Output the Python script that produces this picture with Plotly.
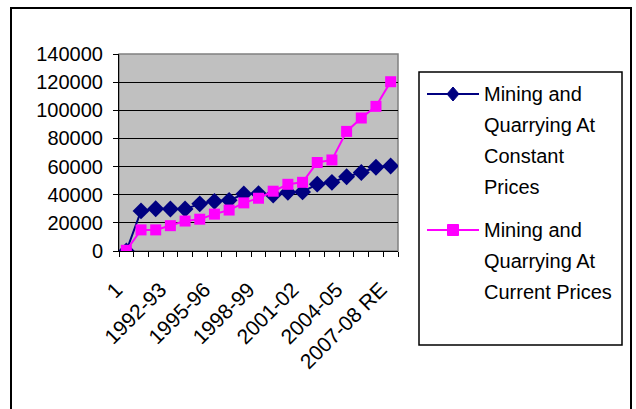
import plotly.graph_objects as go

# Mining and quarrying output, year by year
years = ["1", "1990-91", "1991-92", "1992-93", "1993-94", "1994-95", "1995-96",
         "1996-97", "1997-98", "1998-99", "1999-00", "2000-01", "2001-02",
         "2002-03", "2003-04", "2004-05", "2005-06", "2006-07", "2007-08 RE"]
constant_prices = [0, 28500, 30000, 29800, 29800, 33500, 35300, 36000, 40500, 40800,
                   39800, 41800, 42000, 47500, 48800, 52800, 55800, 59500, 60400]
current_prices = [500, 15000, 15000, 18000, 21300, 22600, 26200, 29100, 34200, 37500,
                  42500, 47400, 48800, 62900, 64700, 85000, 94500, 102800, 120300]
y_ticks = [0, 20000, 40000, 60000, 80000, 100000, 120000, 140000]
series_labels = [["Mining and", "Quarrying At", "Constant", "Prices"],
                 ["Mining and", "Quarrying At", "Current Prices"]]

W, H = 636, 409
L, R, T, B = 119, 398, 54, 251  # plot-area edges in pixels

FONT = "Liberation Sans, Arial, sans-serif"
NAVY, MAGENTA = "#000080", "#FF00FF"

fig = go.Figure()
fig.add_trace(go.Scatter(
    x=years, y=constant_prices, mode="lines+markers",
    name=" ".join(series_labels[0]), showlegend=False,
    line=dict(color=NAVY, width=2),
    marker=dict(symbol="diamond", size=13, color=NAVY),
))
fig.add_trace(go.Scatter(
    x=years, y=current_prices, mode="lines+markers",
    name=" ".join(series_labels[1]), showlegend=False,
    line=dict(color=MAGENTA, width=2),
    marker=dict(symbol="square", size=11, color=MAGENTA),
))


def px_x(p):
    return (p - L) / (R - L)


def px_y(p):
    return (B - p) / (B - T)


shapes = [
    # grey frame round the plot area
    dict(type="rect", xref="paper", yref="paper", x0=0, x1=1, y0=0, y1=1,
         line=dict(color="#808080", width=1.5), layer="below"),
    # outer chart border
    dict(type="rect", xref="paper", yref="paper",
         x0=px_x(11), x1=px_x(631), y0=px_y(414), y1=px_y(8),
         line=dict(color="black", width=2)),
    # legend box
    dict(type="rect", xref="paper", yref="paper",
         x0=px_x(419), x1=px_x(622), y0=px_y(345), y1=px_y(72),
         line=dict(color="black", width=1.5), fillcolor="white"),
]
annotations = []

# hand-drawn legend: sample line, marker and wrapped label for each series
LINE_GAP = 31
entries = [(94, NAVY, "diamond", series_labels[0]),
           (230, MAGENTA, "square", series_labels[1])]
for top_y, color, symbol, lines in entries:
    shapes.append(dict(type="line", xref="paper", yref="paper",
                       x0=px_x(427), x1=px_x(479), y0=px_y(top_y), y1=px_y(top_y),
                       line=dict(color=color, width=2)))
    if symbol == "diamond":
        shapes.append(dict(type="path", xref="paper", yref="paper",
                           xsizemode="pixel", ysizemode="pixel",
                           xanchor=px_x(453), yanchor=px_y(top_y),
                           path="M0,7 L6,0 L0,-7 L-6,0 Z",
                           fillcolor=color, line=dict(color=color, width=1)))
    else:
        shapes.append(dict(type="rect", xref="paper", yref="paper",
                           xsizemode="pixel", ysizemode="pixel",
                           xanchor=px_x(453), yanchor=px_y(top_y),
                           x0=-5.5, x1=5.5, y0=-5.5, y1=5.5,
                           fillcolor=color, line=dict(color=color, width=1)))
    for k, text in enumerate(lines):
        annotations.append(dict(
            xref="paper", yref="paper", x=px_x(482), y=px_y(top_y + k * LINE_GAP),
            xanchor="left", yanchor="middle", text=text, showarrow=False,
            font=dict(family=FONT, size=20, color="black"),
        ))

fig.update_layout(
    width=W, height=H,
    margin=dict(l=L, r=W - R, t=T, b=H - B, autoexpand=False),
    paper_bgcolor="white",
    plot_bgcolor="#C0C0C0",
    font=dict(family=FONT, size=20, color="black"),
    showlegend=False,
    shapes=shapes,
    annotations=annotations,
)

fig.update_xaxes(
    type="category", range=[-0.5, len(years) - 0.5],
    tickmode="array", tickvals=years,
    ticktext=[y if i % 3 == 0 else "" for i, y in enumerate(years)],
    tickson="boundaries", ticks="outside", ticklen=5, tickcolor="black",
    tickangle=-45, tickfont=dict(size=21),
    showline=True, linecolor="black", linewidth=1,
    showgrid=False, zeroline=False, ticklabelstandoff=17, ticklabelshift=-10,
)
fig.update_yaxes(
    range=[0, 140000], tickmode="array", tickvals=y_ticks,
    ticktext=[str(v) for v in y_ticks],
    ticks="outside", ticklen=5, tickcolor="black",
    showline=True, linecolor="black", linewidth=1,
    showgrid=True, gridcolor="black", gridwidth=1, zeroline=False,
    ticklabelstandoff=6,
)

fig.write_html("out.html")
